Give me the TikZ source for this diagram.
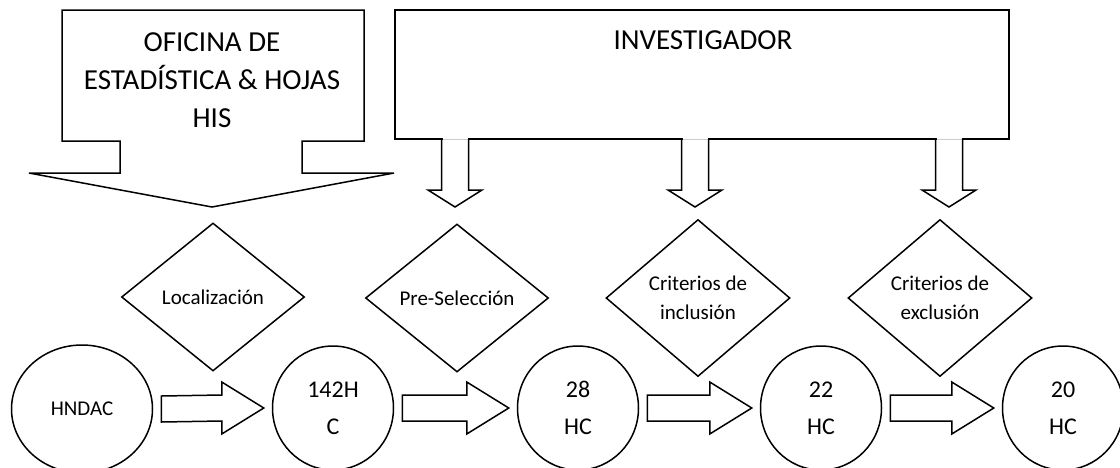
\documentclass[tikz,border=0pt]{standalone}
\usepackage{fontspec}
\setmainfont{Carlito}
\usetikzlibrary{shapes.geometric,calc}
\tikzset{
  rombo/.style={draw,diamond,inner sep=0pt,align=center,font=\fontsize{21}{29}\selectfont},
  hc/.style={draw,ellipse,inner sep=0pt,align=center,minimum width=121,minimum height=124,font=\fontsize{24}{37}\selectfont},
  titulo/.style={align=center,font=\fontsize{29}{38}\selectfont}
}
\newcommand\fatarrow[2]{%
  \coordinate (s) at ([xshift=8pt]#1.east);
  \coordinate (t) at ([xshift=-8pt]#2.west);
  \draw ($(s)+(0,-13)$) -- ($(t)+(-42,-13)$) -- ($(t)+(-42,-26)$) -- (t)
    -- ($(t)+(-42,26)$) -- ($(t)+(-42,13)$) -- ($(s)+(0,13)$) -- cycle;}
\begin{document}
\begin{tikzpicture}[x=1pt,y=-1pt,line width=1.5pt,line join=miter]
    \useasboundingbox (0,0) rectangle (1120,467);
    % oficina begin
    \draw (62,10) -- (364,10) -- (364,141) -- (302,141) -- (302,173) -- (394,173)
      -- (212,207) -- (29,173) -- (120,173) -- (120,141) -- (62,141) -- cycle;
    \node[titulo] (ofi) at (212,80) {OFICINA DE\\ESTADÍSTICA \& HOJAS\\HIS};
    % oficina end
    % investigador begin
    \draw (395,10) rectangle (1009,139);
    \foreach \x in {455,695,949}{
      \draw[white] (\x-12.5,139) -- (\x+12.5,139);
      \draw[gray!40,line width=1pt] (\x-12.5,139) -- (\x+12.5,139);
      \draw (\x-13.5,139) -- (\x-13.5,190) -- (\x-27,190) -- (\x,207)
        -- (\x+27,190) -- (\x+13.5,190) -- (\x+13.5,139);
    }
    \node[titulo] (inv) at (703,40) {INVESTIGADOR};
    % investigador end
    \node[rombo,minimum width=183,minimum height=148] (loc) at (213,297) {Localización};
    \node[rombo,minimum width=183,minimum height=148] (presel) at (457,298) {Pre-Selección};
    \node[rombo,minimum width=184,minimum height=157] (incl) at (698,298) {Criterios de\\inclusión};
    \node[rombo,minimum width=184,minimum height=157] (excl) at (940,298) {Criterios de\\exclusión};

    \node[hc,minimum width=141,minimum height=128,font=\fontsize{21}{25}\selectfont] (hndac) at (82,409) {HNDAC};
    \node[hc] (hc142) at (333,408) {142H\\C};
    \node[hc] (hc28) at (578,408) {28\\HC};
    \node[hc] (hc22) at (821,408) {22\\HC};
    \node[hc] (hc20) at (1063,408) {20\\HC};

    \fatarrow{hndac}{hc142}
    \fatarrow{hc142}{hc28}
    \fatarrow{hc28}{hc22}
    \fatarrow{hc22}{hc20}
\end{tikzpicture}
\end{document}
